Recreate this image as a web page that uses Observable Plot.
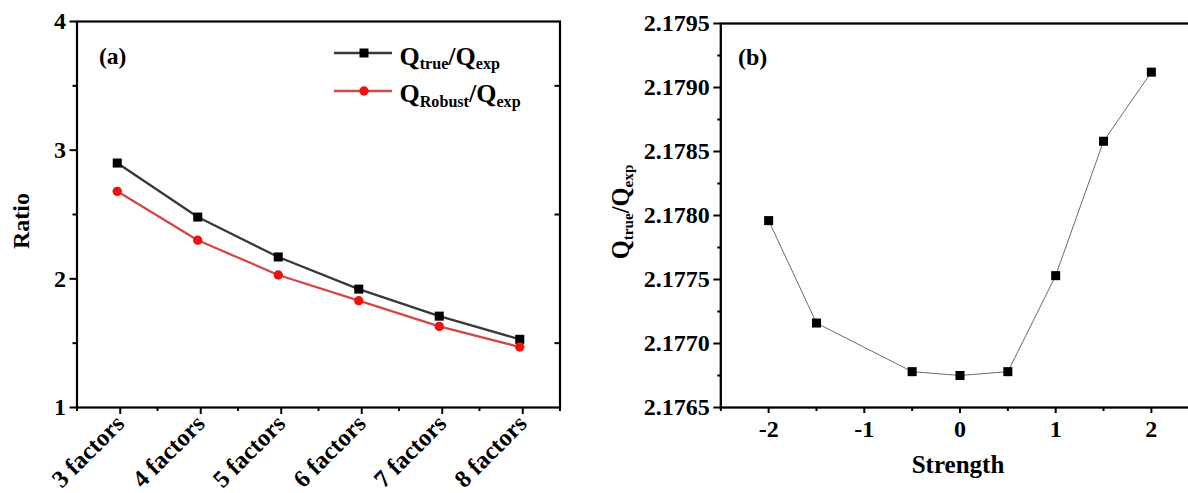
<!DOCTYPE html>
<html><head><meta charset="utf-8">
<script src="https://cdn.jsdelivr.net/npm/d3@7"></script>
<script src="https://cdn.jsdelivr.net/npm/@observablehq/plot@0.6"></script>
<style>
body{margin:0;background:#fff;}
#wrap{position:relative;width:1188px;height:493px;overflow:hidden;font-family:'Liberation Serif';font-weight:bold;color:#000;background:#fff;}
.panel{position:absolute;top:0;width:600px;height:493px;}
.lab{position:absolute;white-space:nowrap;line-height:1;font-weight:bold;font-family:'Liberation Serif';}
.lab sub{font-size:0.62em;vertical-align:baseline;position:relative;top:0.28em;}
.sw{position:absolute;}
svg text{font-family:'Liberation Serif';font-weight:bold;}
</style></head><body><div id="wrap"></div>
<script>
// ---- data: panel (a)
const categories = ["3 factors","4 factors","5 factors","6 factors","7 factors","8 factors"];
const qTrueRatio = [2.90, 2.48, 2.17, 1.92, 1.71, 1.53];
const qRobustRatio = [2.68, 2.30, 2.03, 1.83, 1.63, 1.47];
const ratioTicks = [1, 2, 3, 4];
const ratioMinorTicks = [1.5, 2.5, 3.5];
const categoryMinorTicks = [-0.5, 0.5, 1.5, 2.5, 3.5, 4.5, 5.5];
// ---- data: panel (b)
const strength = [-2, -1.5, -0.5, 0, 0.5, 1, 1.5, 2];
const strengthRatio = [2.17796, 2.17716, 2.17678, 2.17675, 2.17678, 2.17753, 2.17858, 2.17912];
const strengthTicks = [-2, -1, 0, 1, 2];
const strengthMinorTicks = [-2.5, -1.5, -0.5, 0.5, 1.5, 2.5];
const sRatioTicks = [2.1765, 2.1770, 2.1775, 2.1780, 2.1785, 2.1790, 2.1795];
const sRatioMinorTicks = [2.17675, 2.17725, 2.17775, 2.17825, 2.17875, 2.17925];

const wrap = document.getElementById("wrap");
const font = "font-family:'Liberation Serif';font-weight:bold;font-size:24px;color:#000;background:transparent;overflow:visible;";

// ---- panel (a)
const dataA = categories.map((c, i) => ({i, c, t: qTrueRatio[i], r: qRobustRatio[i]}));
const idx = categories.map((c, i) => i);
const A = Plot.plot({
  width: 600, height: 493,
  marginLeft: 76.5, marginRight: 40.5, marginTop: 21, marginBottom: 86,
  style: font,
  x: {type: "linear", domain: [-0.5, categories.length - 0.5]},
  y: {domain: [1, 4]},
  marks: [
    Plot.axisY({ticks: ratioTicks, tickSize: 7, tickPadding: 4, tickFormat: d => String(d), label: null, strokeWidth: 2}),
    Plot.axisY({ticks: ratioMinorTicks, tickSize: 4, text: null, label: null, strokeWidth: 2}),
    Plot.axisY({anchor: "right", ticks: ratioMinorTicks, tickSize: -6, text: null, label: null, strokeWidth: 2}),
    Plot.axisX({ticks: idx, tickSize: 7, tickPadding: 5, dx: 3, fontSize: 24.5, tickFormat: i => categories[i], tickRotate: -45, label: null, strokeWidth: 2}),
    Plot.axisX({ticks: categoryMinorTicks, tickSize: 4, text: null, label: null, strokeWidth: 2}),
    Plot.frame({strokeWidth: 2.2, stroke: "#000"}),
    Plot.line(dataA, {x: "i", y: "t", stroke: "#383838", strokeWidth: 2.3}),
    Plot.line(dataA, {x: "i", y: "r", stroke: "#d24848", strokeWidth: 2.3}),
    Plot.dot(dataA, {x: "i", y: "t", symbol: "square", fill: "#000", r: 5.1}),
    Plot.dot(dataA, {x: "i", y: "r", fill: "#ee1111", r: 4.7})
  ]
});
const pa = document.createElement("div"); pa.className = "panel"; pa.style.left = "0px"; pa.appendChild(A); wrap.appendChild(pa);

// ---- panel (b)
const dataB = strength.map((s, i) => ({s, v: strengthRatio[i]}));
const B = Plot.plot({
  width: 600, height: 493,
  marginLeft: 120.3, marginRight: 1.3, marginTop: 23, marginBottom: 86,
  style: font,
  x: {domain: [-2.5, 2.5]},
  y: {domain: [2.1765, 2.1795]},
  marks: [
    Plot.axisY({ticks: sRatioTicks, tickSize: 7, tickPadding: 4, tickFormat: d3.format(".4f"), label: null, strokeWidth: 2}),
    Plot.axisY({ticks: sRatioMinorTicks, tickSize: 3, text: null, label: null, strokeWidth: 2}),
    Plot.axisX({ticks: strengthTicks, tickSize: 6, tickPadding: 6, tickFormat: d => String(d).replace("−","-"), label: null, strokeWidth: 2}),
    Plot.axisX({ticks: strengthMinorTicks, tickSize: 4, text: null, label: null, strokeWidth: 2}),
    Plot.frame({strokeWidth: 2.3, stroke: "#000"}),
    Plot.line(dataB, {x: "s", y: "v", stroke: "#5a5a5a", strokeWidth: 0.9}),
    Plot.dot(dataB, {x: "s", y: "v", symbol: "square", fill: "#000", r: 5.1})
  ]
});
const pb = document.createElement("div"); pb.className = "panel"; pb.style.left = "600px"; pb.appendChild(B); wrap.appendChild(pb);

// ---- text labels & legend (HTML)
function lab(html, left, top, size, extra) {
  const d = document.createElement("div");
  d.className = "lab"; d.innerHTML = html;
  d.style.left = left + "px"; d.style.top = top + "px"; d.style.fontSize = size + "px";
  if (extra) Object.assign(d.style, extra);
  wrap.appendChild(d); return d;
}
lab("(a)", 99, 44.6, 23.5);
lab("(b)", 738, 44.6, 24);
lab("Ratio", 21, 220.5, 24, {transform: "translate(-50%,-50%) rotate(-90deg)"});
lab("Q<sub>true</sub>/Q<sub>exp</sub>", 621, 212, 24.5, {transform: "translate(-50%,-50%) rotate(-90deg)"});
lab("Strength", 958, 464, 25, {transform: "translate(-50%,-50%)"});

const legendItems = [
  {html: "Q<sub>true</sub>/Q<sub>exp</sub>", stroke: "#383838", fill: "#000", symbol: "square"},
  {html: "Q<sub>Robust</sub>/Q<sub>exp</sub>", stroke: "#d24848", fill: "#ee1111", symbol: "circle"}
];
legendItems.forEach((it, k) => {
  const cy = 53.3 + k * 37.4;
  const ns = "http://www.w3.org/2000/svg";
  const s = document.createElementNS(ns, "svg");
  s.setAttribute("width", 58); s.setAttribute("height", 14);
  s.setAttribute("class", "sw"); s.style.left = "334px"; s.style.top = (cy - 7) + "px";
  const ln = document.createElementNS(ns, "line");
  ln.setAttribute("x1", 0); ln.setAttribute("x2", 58); ln.setAttribute("y1", 7); ln.setAttribute("y2", 7);
  ln.setAttribute("stroke", it.stroke); ln.setAttribute("stroke-width", 2.3);
  s.appendChild(ln);
  const p = document.createElementNS(ns, "path");
  p.setAttribute("d", d3.symbol(it.symbol === "square" ? d3.symbolSquare : d3.symbolCircle, it.symbol === "square" ? 81 : 69)());
  p.setAttribute("transform", "translate(30,7)"); p.setAttribute("fill", it.fill);
  s.appendChild(p);
  wrap.appendChild(s);
  lab(it.html, 399.5, cy - 9.6, 26);
});
</script></body></html>
